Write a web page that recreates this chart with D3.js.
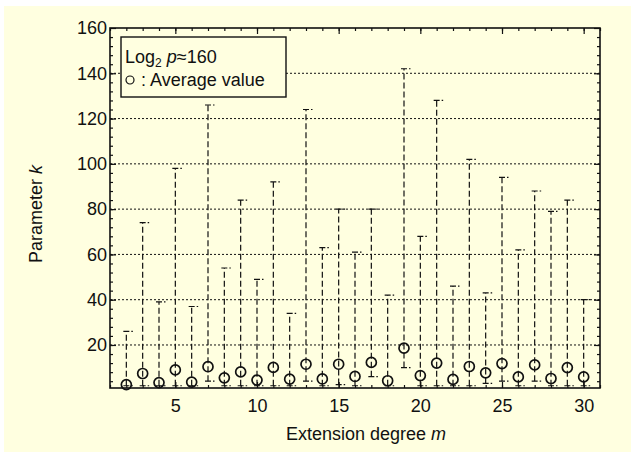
<!DOCTYPE html>
<html>
<head>
<meta charset="utf-8">
<script src="https://cdn.jsdelivr.net/npm/d3@7"></script>
<style>
  body { margin: 0; background: #fff; }
  svg text { font-family: "Liberation Sans", Arial, sans-serif; fill: #111; }
</style>
</head>
<body>
<div id="chart"></div>
<script>
// Data: extension degree m, min / average / max of k
const degrees  = [2, 3, 4, 5, 6, 7, 8, 9, 10, 11, 12, 13, 14, 15, 16, 17, 18, 19, 20, 21, 22, 23, 24, 25, 26, 27, 28, 29, 30];
const maxK     = [26, 74, 39, 98, 37, 126, 54, 84, 49, 92, 34, 124, 63, 80, 61, 80, 42, 142, 68, 128, 46, 102, 43, 94, 62, 88, 79, 84, 40];
const avgK     = [2.5, 7.4, 3.4, 9.0, 3.6, 10.4, 5.5, 8.1, 4.5, 10.1, 4.9, 11.5, 5.0, 11.5, 6.1, 12.3, 4.2, 18.6, 6.5, 12.0, 4.8, 10.5, 7.7, 11.8, 5.9, 11.2, 5.2, 10.0, 5.9];
const minK     = [2, 2, 2, 2, 2, 4, 2, 2, 2, 2, 2, 4, 2, 2.5, 2, 6, 2, 10, 2, 2, 2, 2, 3, 4, 2, 4, 2, 2, 2];
const xTicks   = [5, 10, 15, 20, 25, 30];
const yTicks   = [20, 40, 60, 80, 100, 120, 140, 160];
const gridVals = [20, 40, 60, 80, 100, 120, 140];

const data = degrees.map((m, i) => ({ m, min: minK[i], avg: avgK[i], max: maxK[i] }));

const W = 631, H = 452;
const margin = { top: 28, right: 31, bottom: 64, left: 110 },
      width = W - margin.left - margin.right,
      height = H - margin.top - margin.bottom;
const fs = "18px";

const svg = d3.select("#chart").append("svg")
    .attr("width", W).attr("height", H);

// light yellow page background
svg.append("rect").attr("x", 4).attr("y", 6)
    .attr("width", W - 4).attr("height", H - 6)
    .attr("fill", "#ffffe0");

const g = svg.append("g").attr("transform", `translate(${margin.left},${margin.top})`);

const x = d3.scaleLinear().domain([1, 31]).range([0, width]);
const y = d3.scaleLinear().domain([1, 160]).range([height, 0]);

// dotted horizontal grid
g.selectAll(".grid").data(gridVals).enter().append("line")
    .attr("x1", 0).attr("x2", width)
    .attr("y1", d => y(d)).attr("y2", d => y(d))
    .attr("stroke", "#111").attr("stroke-width", 1)
    .attr("stroke-dasharray", "2,2");

// inward ticks on all four sides
const xMinor = d3.range(1, 32);
const yMinor = d3.range(4, 160, 4);
function tickAxis(axis, major) {
  axis.tickSizeInner(major ? -6 : -3).tickSizeOuter(0);
  return axis;
}
g.append("g").attr("transform", `translate(0,${height})`)
    .call(tickAxis(d3.axisBottom(x).tickValues(xMinor).tickFormat(""), false));
g.append("g").attr("transform", `translate(0,${height})`)
    .call(tickAxis(d3.axisBottom(x).tickValues(xTicks), true))
    .call(a => a.selectAll("text").attr("y", 8).attr("dy", "0.9em").style("font-size", fs));
g.append("g")
    .call(tickAxis(d3.axisTop(x).tickValues(xMinor).tickFormat(""), false));
g.append("g")
    .call(tickAxis(d3.axisTop(x).tickValues(xTicks).tickFormat(""), true));
g.append("g")
    .call(tickAxis(d3.axisLeft(y).tickValues(yMinor).tickFormat(""), false));
g.append("g")
    .call(tickAxis(d3.axisLeft(y).tickValues(yTicks), true))
    .call(a => a.selectAll("text").attr("x", -3).style("font-size", fs));
g.append("g").attr("transform", `translate(${width},0)`)
    .call(tickAxis(d3.axisRight(y).tickValues(yMinor).tickFormat(""), false));
g.append("g").attr("transform", `translate(${width},0)`)
    .call(tickAxis(d3.axisRight(y).tickValues(yTicks).tickFormat(""), true));
g.selectAll(".domain").remove();
g.selectAll(".tick line").attr("stroke", "#111").attr("stroke-width", 1.2);
g.selectAll(".tick text").attr("fill", "#111");

// range lines
const marks = g.append("g");
marks.selectAll(".range").data(data).enter().append("line")
    .attr("x1", d => x(d.m)).attr("x2", d => x(d.m))
    .attr("y1", d => y(d.min)).attr("y2", d => y(d.max))
    .attr("stroke", "#111").attr("stroke-width", 1.2)
    .attr("stroke-dasharray", "6,3");

// caps at max and min
["max", "min"].forEach(key => {
  marks.selectAll(".cap-" + key).data(data).enter().append("line")
      .attr("x1", d => x(d.m) - 3).attr("x2", d => x(d.m) + 7)
      .attr("y1", d => y(d[key])).attr("y2", d => y(d[key]))
      .attr("stroke", "#111").attr("stroke-width", 1.2)
      .attr("stroke-dasharray", "6,2,1.5");
});

// average markers
marks.selectAll(".avg").data(data).enter().append("circle")
    .attr("cx", d => x(d.m)).attr("cy", d => y(d.avg))
    .attr("r", 5)
    .attr("fill", "none").attr("stroke", "#111").attr("stroke-width", 1.7);

// frame
g.append("rect").attr("width", width).attr("height", height)
    .attr("fill", "none").attr("stroke", "#111").attr("stroke-width", 1.6);

// legend
const leg = g.append("g").attr("transform", "translate(11,9)");
leg.append("rect").attr("width", 165).attr("height", 60)
    .attr("fill", "#ffffe0").attr("stroke", "#111").attr("stroke-width", 1.4);
const l1 = leg.append("text").attr("x", 4).attr("y", 26).style("font-size", fs);
l1.append("tspan").text("Log");
l1.append("tspan").attr("dy", 4).style("font-size", "12px").text("2");
l1.append("tspan").attr("dy", -4).text("\u00a0");
l1.append("tspan").style("font-style", "italic").text("p");
l1.append("tspan").text("≈160");
leg.append("circle").attr("cx", 9).attr("cy", 43).attr("r", 4)
    .attr("fill", "none").attr("stroke", "#111").attr("stroke-width", 1.2);
leg.append("text").attr("x", 15).attr("y", 49).style("font-size", fs).text("\u00a0: Average value");

// axis titles
const xt = svg.append("text").attr("x", 366).attr("y", 440)
    .attr("text-anchor", "middle").style("font-size", fs);
xt.append("tspan").text("Extension degree\u00a0");
xt.append("tspan").style("font-style", "italic").text("m");

const yt = svg.append("text")
    .attr("transform", `translate(42,214) rotate(-90)`)
    .attr("text-anchor", "middle").style("font-size", fs);
yt.append("tspan").text("Parameter\u00a0");
yt.append("tspan").style("font-style", "italic").text("k");
</script>
</body>
</html>
